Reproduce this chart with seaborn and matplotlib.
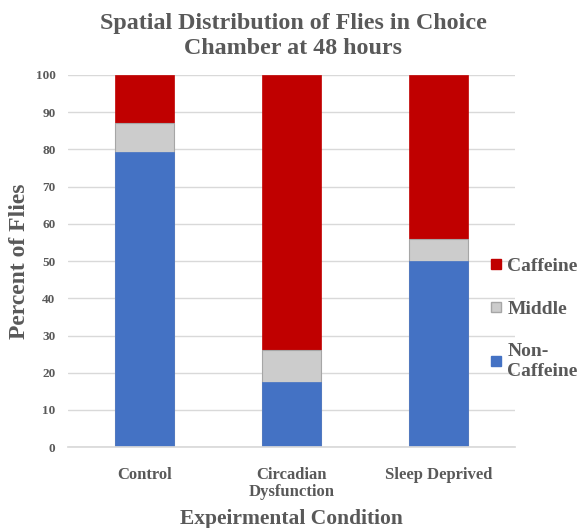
import matplotlib
matplotlib.use("Agg")
import matplotlib.pyplot as plt
import seaborn as sns
import pandas as pd
import numpy as np
from matplotlib.lines import Line2D

conditions = ["Control", "Circadian\nDysfunction", "Sleep Deprived"]
non_caffeine = [79.3, 17.4, 50.0]
middle = [7.7, 8.6, 6.0]
caffeine = [13.0, 74.0, 44.0]

sns.set_theme(style="white")
plt.rcParams['font.family'] = ['Liberation Serif', 'DejaVu Serif']

c_blue = "#4472c4"
c_gray = "#cccccc"
c_red = "#c00000"
txt = "#595959"

df = pd.DataFrame({"cond": conditions,
                   "non": non_caffeine, "mid": middle, "caf": caffeine})
df["lvl1"] = df["non"]
df["lvl2"] = df["non"] + df["mid"]
df["lvl3"] = df["non"] + df["mid"] + df["caf"]

fig = plt.figure(figsize=(5.87, 5.28), dpi=100)
ax = fig.add_axes([0.116, 0.153, 0.761, 0.705])

sns.barplot(data=df, x="cond", y="lvl3", color=c_red, width=0.4, ax=ax,
            saturation=1, edgecolor=c_red, linewidth=0.5)
sns.barplot(data=df, x="cond", y="lvl2", color=c_gray, width=0.4, ax=ax,
            saturation=1, edgecolor="#a6a6a6", linewidth=0.8)
sns.barplot(data=df, x="cond", y="lvl1", color=c_blue, width=0.4, ax=ax,
            saturation=1, edgecolor=c_blue, linewidth=0.5)

ax.set_ylim(0, 100)
ax.set_xlim(-0.52, 2.52)
ax.set_yticks(np.arange(0, 101, 10))
ax.yaxis.grid(True, color="#d9d9d9", linewidth=1)
ax.set_axisbelow(True)
for s in ["top", "right", "left"]:
    ax.spines[s].set_visible(False)
ax.spines["bottom"].set_color("#d9d9d9")
ax.tick_params(axis="y", length=0, labelsize=9.5, labelcolor=txt, pad=9)
ax.tick_params(axis="x", length=0, labelsize=12, labelcolor=txt, pad=14)
for lab in ax.get_yticklabels() + ax.get_xticklabels():
    lab.set_fontweight("bold")
for lab in ax.get_xticklabels():
    lab.set_linespacing(1.15)

ax.set_ylabel("Percent of Flies", fontsize=17, fontweight="bold", color=txt, labelpad=4)
ax.set_xlabel("Expeirmental Condition", fontsize=15.5, fontweight="bold", color=txt, labelpad=6)
fig.suptitle("Spatial Distribution of Flies in Choice\nChamber at 48 hours",
             fontsize=17.3, fontweight="bold", color=txt, y=0.975, x=0.5, linespacing=1.25)

handles = [Line2D([0], [0], marker="s", linestyle="", markersize=7,
                  markerfacecolor=c, markeredgecolor=e)
           for c, e in [(c_red, c_red), (c_gray, "#a6a6a6"), (c_blue, c_blue)]]
labels = ["Caffeine", "Middle", "Non-\nCaffeine"]
leg = fig.legend(handles, labels, loc="upper left", bbox_to_anchor=(0.816, 0.527),
                 frameon=False, handletextpad=0.05, labelspacing=1.3,
                 handlelength=1.0, borderaxespad=0,
                 prop={"family": "Liberation Serif", "weight": "bold", "size": 14})
for t in leg.get_texts():
    t.set_color(txt)
    t.set_fontweight("bold")
    t.set_linespacing(1.2)

fig.savefig("out.png", dpi=100)
